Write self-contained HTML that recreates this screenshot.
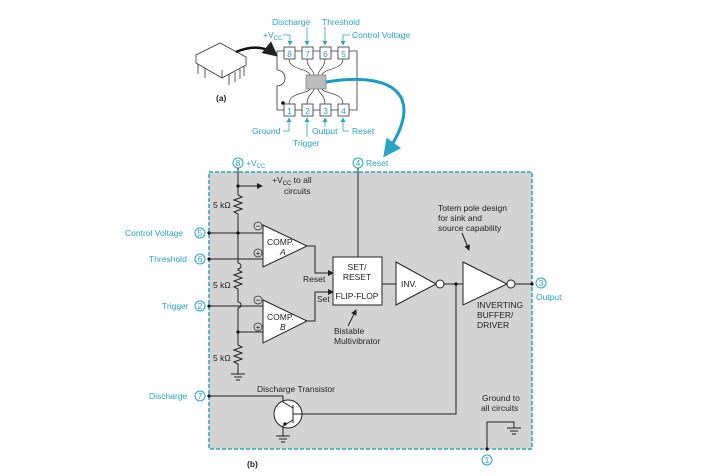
<!DOCTYPE html>
<html><head><meta charset="utf-8"><style>
html,body{margin:0;padding:0;background:#fff;}
svg{display:block;font-family:"Liberation Sans",sans-serif;}
.t{font-size:8.5px;fill:#222;}
.b{font-size:8.5px;fill:#29a3c8;}
</style></head><body>
<svg width="712" height="476" viewBox="0 0 712 476" xmlns="http://www.w3.org/2000/svg">
<defs>
<marker id="ar" markerWidth="6" markerHeight="6" refX="5" refY="3" orient="auto"><path d="M0,0 L6,3 L0,6z" fill="#222"/></marker>
<marker id="ab" markerWidth="6" markerHeight="6" refX="5" refY="3" orient="auto"><path d="M0,0 L6,3 L0,6z" fill="#29a3c8"/></marker>
</defs>
<rect x="209" y="172" width="323" height="277" fill="#d3d3d3" stroke="#29a3c8" stroke-width="1.5" stroke-dasharray="4,2"/>

<g stroke="#333" fill="#fff" stroke-width="0.8">
<path d="M196,55 L220,43 L246,57 L222,70 Z"/>
<path d="M196,55 L196,63 L222,78 L246,65 L246,57"/>
<path d="M222,70 L222,78"/>
<path d="M198,64 v10 M205,68 v10 M229,75 v10 M235,72 v10 M240,69 v10 M244,66 v10" />
</g>
<text x="216" y="101" class="t" font-weight="bold">(a)</text>
<path d="M236,52 Q260,42 276,55" stroke="#111" stroke-width="2.5" fill="none" marker-end="url(#ar)"/>

<path d="M277,51 H357 V110 H277 V86 A8,8 0 0 0 277,70 Z" fill="#fff" stroke="#333" stroke-width="0.8"/>
<circle cx="283" cy="103" r="1.8" fill="#111"/>
<rect x="306" y="75" width="20" height="14" fill="#bbb" stroke="#555" stroke-width="0.5"/>
<g stroke="#333" stroke-width="0.7" fill="none">
<path d="M289,59 C289,70 308,68 310,75 M307,59 C307,68 314,70 314,75 M325,59 C325,68 318,70 318,75 M343,59 C343,70 324,68 322,75"/>
<path d="M289,104 C289,92 308,94 310,89 M307,104 C307,95 314,92 314,89 M325,104 C325,95 318,92 318,89 M343,104 C343,92 324,94 322,89"/>
</g>
<g fill="#fff" stroke="#333" stroke-width="0.8">
<rect x="284" y="47" width="11" height="12"/><rect x="302" y="47" width="11" height="12"/><rect x="320" y="47" width="11" height="12"/><rect x="338" y="47" width="11" height="12"/>
<rect x="284" y="104" width="11" height="12"/><rect x="302" y="104" width="11" height="12"/><rect x="320" y="104" width="11" height="12"/><rect x="338" y="104" width="11" height="12"/>
</g>
<g class="b" font-size="9" text-anchor="middle">
<text x="289.5" y="57">8</text><text x="307.5" y="57">7</text><text x="325.5" y="57">6</text><text x="343.5" y="57">5</text>
<text x="289.5" y="114">1</text><text x="307.5" y="114">2</text><text x="325.5" y="114">3</text><text x="343.5" y="114">4</text>
</g>
<g stroke="#29a3c8" stroke-width="0.8" fill="none">
<path d="M283,35 H290 V45" marker-end="url(#ab)"/>
<path d="M307,27 V45" marker-end="url(#ab)"/>
<path d="M325,27 V45" marker-end="url(#ab)"/>
<path d="M350,35 H343 V45" marker-end="url(#ab)"/>
<path d="M283,131 H289 V118" marker-end="url(#ab)"/>
<path d="M307,137 V118" marker-end="url(#ab)"/>
<path d="M325,127 V118" marker-end="url(#ab)"/>
<path d="M349,131 H343 V118" marker-end="url(#ab)"/>
</g>
<text x="272" y="25" class="b">Discharge</text>
<text x="322" y="25" class="b">Threshold</text>
<text x="263" y="38" class="b">+V<tspan font-size="6" dy="2">CC</tspan></text>
<text x="352" y="38" class="b">Control Voltage</text>
<text x="252" y="134" class="b">Ground</text>
<text x="293" y="146" class="b">Trigger</text>
<text x="312" y="134" class="b">Output</text>
<text x="352" y="134" class="b">Reset</text>
<path d="M326,82 C400,70 425,100 385,155" stroke="#1a9cc6" stroke-width="3" fill="none" marker-end="url(#ab)"/>

<circle cx="238" cy="163" r="5" fill="#fff" stroke="#29a3c8"/><text x="238" y="166" class="b" text-anchor="middle" font-size="8">8</text>
<text x="246" y="166" class="b">+V<tspan font-size="6" dy="2">CC</tspan></text>
<circle cx="358" cy="163" r="5" fill="#fff" stroke="#29a3c8"/><text x="358" y="166" class="b" text-anchor="middle" font-size="8">4</text>
<text x="366" y="166" class="b">Reset</text>

<g stroke="#222" stroke-width="1" fill="none">
<path d="M238,168 V195 l4,2 -8,3 8,3 -8,3 8,3 -8,3 4,2 V263 a3,3 0 0 1 0,6 V270 l4,2 -8,3 8,3 -8,3 8,3 -8,3 4,2 V302 a3,3 0 0 1 0,6 V345 l4,2 -8,3 8,3 -8,3 8,3 -8,3 4,2 V374"/>
<path d="M231,374 h14 M234,377 h8 M236,380 h4"/>
<path d="M238,186 H262" marker-end="url(#ar)"/>
<path d="M209,233 H263 M209,259 H263 M209,306 H263 M238,332 H263"/>
<path d="M263,225 L307,246 L263,267 Z" fill="#fff"/>
<path d="M263,300 L307,321 L263,343 Z" fill="#fff"/>
<path d="M307,246 H315 V273 H333" marker-end="url(#ar)"/>
<path d="M307,321 H315 V292 H333" marker-end="url(#ar)"/>
<rect x="333" y="257" width="49" height="48" fill="#fff"/>
<path d="M358,168 V257"/>
<path d="M382,284 H396"/>
<path d="M396,262 L436,284 L396,305 Z" fill="#fff"/>
<circle cx="440" cy="284" r="4" fill="#fff"/>
<path d="M444,284 H463"/>
<path d="M463,262 L507,284 L463,305 Z" fill="#fff"/>
<circle cx="511" cy="284" r="4" fill="#fff"/>
<path d="M515,284 H532"/>
<path d="M456,284 V414 H302"/>
<path d="M462,233 L469,250" marker-end="url(#ar)"/>
<path d="M348,326 L356,310" marker-end="url(#ar)"/>
<circle cx="288" cy="414" r="14" fill="#fff"/>
<path d="M293,405 V423 M293,414 H302"/>
<path d="M209,396 H283 V402 L293,408 M293,420 L283,426 V436"/>
<path d="M276,436 h14 M279,439 h8 M281,442 h4"/>
<path d="M487,449 V422 H514 V428 M507,428 h14 M510,431 h8 M512,434 h4"/>
</g>
<g fill="#111"><circle cx="238" cy="186" r="1.6"/><circle cx="238" cy="233" r="1.6"/><circle cx="238" cy="332" r="1.6"/><circle cx="456" cy="284" r="1.6"/><circle cx="209" cy="233" r="1.6"/><circle cx="209" cy="259" r="1.6"/><circle cx="209" cy="306" r="1.6"/><circle cx="209" cy="396" r="1.6"/><circle cx="532" cy="284" r="1.6"/><circle cx="487" cy="449" r="1.6"/><circle cx="285" cy="424" r="1.6"/></g>
<g fill="none" stroke="#222" stroke-width="0.7">
<circle cx="258" cy="226" r="4"/><circle cx="258" cy="253" r="4"/><circle cx="258" cy="300" r="4"/><circle cx="258" cy="327" r="4"/>
</g>
<g class="t" text-anchor="middle" font-size="8"><text x="258" y="229">−</text><text x="258" y="256">+</text><text x="258" y="303">−</text><text x="258" y="330">+</text></g>

<text x="272" y="183" class="t">+V<tspan font-size="6" dy="2">CC</tspan><tspan dy="-2"> to all</tspan></text>
<text x="284" y="194" class="t">circuits</text>
<text x="213" y="208" class="t">5 kΩ</text>
<text x="213" y="288" class="t">5 kΩ</text>
<text x="213" y="361" class="t">5 kΩ</text>
<text x="267" y="245" class="t">COMP.</text><text x="280" y="255" class="t" font-style="italic">A</text>
<text x="267" y="320" class="t">COMP.</text><text x="280" y="330" class="t" font-style="italic">B</text>
<text x="303" y="282" class="t">Reset</text>
<text x="317" y="302" class="t">Set</text>
<text x="357" y="270" class="t" text-anchor="middle">SET/</text>
<text x="357" y="280" class="t" text-anchor="middle">RESET</text>
<text x="357" y="299" class="t" text-anchor="middle">FLIP-FLOP</text>
<text x="334" y="334" class="t">Bistable</text>
<text x="334" y="344" class="t">Multivibrator</text>
<text x="401" y="287" class="t">INV.</text>
<text x="438" y="211" class="t">Totem pole design</text>
<text x="438" y="221" class="t">for sink and</text>
<text x="438" y="231" class="t">source capability</text>
<text x="477" y="308" class="t">INVERTING</text>
<text x="477" y="318" class="t">BUFFER/</text>
<text x="477" y="328" class="t">DRIVER</text>
<text x="257" y="392" class="t">Discharge Transistor</text>
<text x="482" y="401" class="t">Ground to</text>
<text x="481" y="411" class="t">all circuits</text>
<text x="247" y="467" class="t" font-weight="bold">(b)</text>

<text x="125" y="236" class="b">Control Voltage</text><circle cx="200" cy="233" r="5" fill="#fff" stroke="#29a3c8"/><text x="200" y="236" class="b" text-anchor="middle" font-size="8">5</text>
<text x="149" y="262" class="b">Threshold</text><circle cx="200" cy="259" r="5" fill="#fff" stroke="#29a3c8"/><text x="200" y="262" class="b" text-anchor="middle" font-size="8">6</text>
<text x="162" y="309" class="b">Trigger</text><circle cx="200" cy="306" r="5" fill="#fff" stroke="#29a3c8"/><text x="200" y="309" class="b" text-anchor="middle" font-size="8">2</text>
<text x="149" y="399" class="b">Discharge</text><circle cx="200" cy="396" r="5" fill="#fff" stroke="#29a3c8"/><text x="200" y="399" class="b" text-anchor="middle" font-size="8">7</text>
<circle cx="541" cy="283" r="5" fill="#fff" stroke="#29a3c8"/><text x="541" y="286" class="b" text-anchor="middle" font-size="8">3</text>
<text x="536" y="300" class="b">Output</text>
<circle cx="487" cy="460" r="5" fill="#fff" stroke="#29a3c8"/><text x="487" y="463" class="b" text-anchor="middle" font-size="8">1</text>
</svg>
</body></html>
